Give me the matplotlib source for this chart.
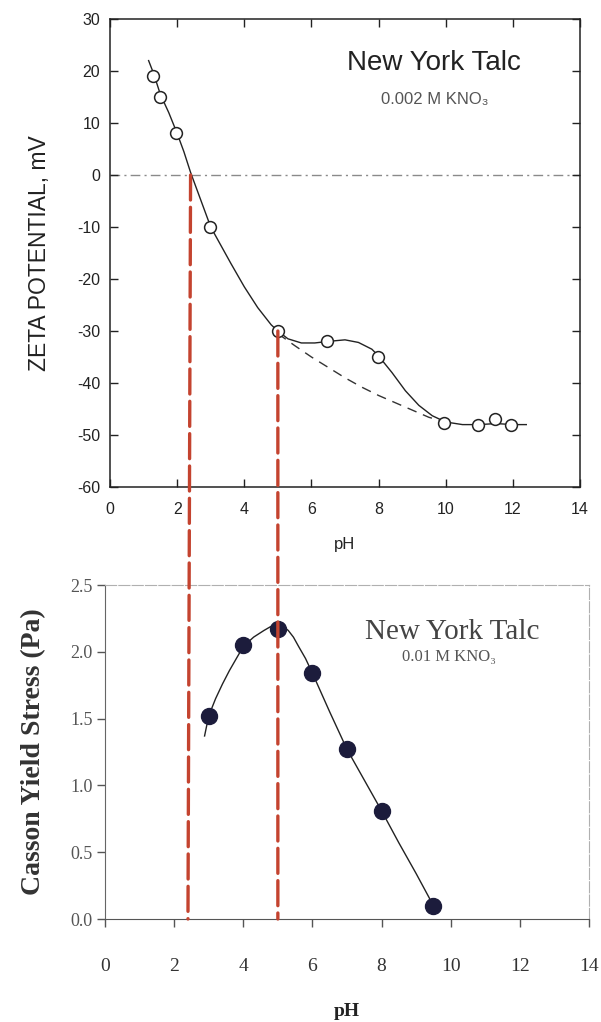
import matplotlib
matplotlib.use('Agg')
import matplotlib.pyplot as plt
from matplotlib.patches import ConnectionPatch

plt.rcParams['axes.unicode_minus'] = False

# ---------------- data: top panel (zeta potential) ----------------
zeta_ph = [1.29, 1.48, 1.98, 2.97, 4.99, 6.45, 7.97, 9.95, 10.95, 11.46, 11.95]
zeta_mv = [19.0, 15.0, 8.0, -10.0, -30.0, -32.0, -35.0, -47.6, -48.0, -47.0, -48.0]

zeta_fit_ph = [1.15, 1.3, 1.5, 1.75, 2.0, 2.2, 2.4, 2.6, 2.8, 3.0, 3.3, 3.6, 4.0, 4.4,
               4.8, 5.0, 5.3, 5.7, 6.1, 6.5, 7.0, 7.4, 7.8, 8.0, 8.4, 8.8, 9.2, 9.6,
               10.0, 10.5, 11.0, 11.5, 12.0, 12.4]
zeta_fit_mv = [22.0, 19.5, 15.5, 12.0, 8.0, 4.5, 0.5, -3.0, -6.5, -10.0, -13.5, -17.0,
               -21.5, -25.5, -28.8, -30.0, -31.5, -32.3, -32.3, -32.0, -31.7, -32.2,
               -33.5, -34.8, -38.0, -41.5, -44.3, -46.3, -47.5, -48.0, -48.0, -47.8,
               -48.0, -48.0]

zeta_dash_ph = [5.0, 5.5, 6.0, 6.5, 7.0, 7.5, 8.0, 8.5, 9.0, 9.5, 10.0]
zeta_dash_mv = [-30.5, -32.8, -35.0, -37.0, -39.0, -40.8, -42.4, -43.8, -45.2, -46.6, -47.5]

zeta_ticks = [30, 20, 10, 0, -10, -20, -30, -40, -50, -60]
ph_ticks = [0, 2, 4, 6, 8, 10, 12, 14]

# ---------------- data: bottom panel (Casson yield stress) ----------------
yield_ph = [3.0, 4.0, 5.0, 6.0, 7.0, 8.0, 9.5]
yield_pa = [1.52, 2.05, 2.17, 1.84, 1.27, 0.81, 0.10]

yield_fit_ph = [2.88, 3.0, 3.2, 3.4, 3.6, 3.8, 4.0, 4.3, 4.6, 4.8, 5.0, 5.15, 5.3,
                5.45, 5.6, 5.8, 6.0, 6.5, 7.0, 7.5, 8.0, 8.5, 9.0, 9.5]
yield_fit_pa = [1.37, 1.52, 1.65, 1.76, 1.86, 1.95, 2.04, 2.11, 2.16, 2.19, 2.20, 2.19,
                2.16, 2.11, 2.04, 1.95, 1.84, 1.55, 1.27, 1.04, 0.81, 0.57, 0.34, 0.10]

yield_ticks = [0.0, 0.5, 1.0, 1.5, 2.0, 2.5]
yield_tick_labels = ['0.0', '0.5', '1.0', '1.5', '2.0', '2.5']

# IEP / peak markers (red dashed lines)
iep_ph = [2.4, 5.0]
iep_zeta = [0.0, -30.0]

SANS = ['Liberation Sans', 'DejaVu Sans']
SERIF = ['Liberation Serif', 'DejaVu Serif']

fig = plt.figure(figsize=(6.01, 10.22), dpi=100)
ax1 = fig.add_axes([110 / 601, 1 - 487 / 1022, 470 / 601, 468 / 1022])
ax2 = fig.add_axes([105 / 601, 1 - 919 / 1022, 484 / 601, 334 / 1022])

# ---------------- top panel ----------------
ax1.axhline(0, color='#8a8a8a', lw=1.0, ls=(0, (7, 3, 1.5, 3)), zorder=1)
ax1.plot(zeta_fit_ph, zeta_fit_mv, color='#222222', lw=1.0, zorder=2)
ax1.plot(zeta_dash_ph, zeta_dash_mv, color='#333333', lw=1.0, ls=(0, (7, 5)), zorder=2)
ax1.plot(zeta_ph, zeta_mv, ls='none', marker='o', ms=8.5, mfc='white',
         mec='#222222', mew=1.1, zorder=3)
ax1.set_xlim(0, 14)
ax1.set_ylim(-60, 30)
ax1.set_xticks(ph_ticks)
ax1.set_yticks(zeta_ticks)
ax1.tick_params(direction='in', top=True, right=True, length=6, width=1.0,
                labelsize=11.5, colors='#222222')
ax1.tick_params(axis='y', pad=7)
ax1.tick_params(axis='x', pad=11)
for lab in ax1.get_xticklabels() + ax1.get_yticklabels():
    lab.set_family(SANS)
for sp in ax1.spines.values():
    sp.set_color('#222222')
    sp.set_linewidth(1.1)
ax1.set_xlabel('pH', family=SANS, fontsize=12, color='#222222', labelpad=14)
ax1.set_ylabel('ZETA POTENTIAL, mV', family=SANS, fontsize=16.5, color='#222222',
               labelpad=19)
ax1.text(0.69, 0.906, 'New York Talc', transform=ax1.transAxes, ha='center',
         va='center', family=SANS, fontsize=20, color='#222222')
ax1.text(0.69, 0.827, '0.002 M KNO\u2083', transform=ax1.transAxes, ha='center',
         va='center', family=SANS, fontsize=12, color='#555555')

# ---------------- bottom panel ----------------
ax2.plot(yield_fit_ph, yield_fit_pa, color='#222222', lw=1.0, zorder=2)
ax2.plot(yield_ph, yield_pa, ls='none', marker='o', ms=11.5, mfc='#1c1c3c',
         mec='#1c1c3c', zorder=3)
ax2.set_xlim(0, 14)
ax2.set_ylim(0, 2.5)
ax2.set_xticks(ph_ticks)
ax2.set_yticks(yield_ticks)
ax2.set_yticklabels(yield_tick_labels)
ax2.tick_params(direction='out', length=6, width=1.0, colors='#555555')
ax2.tick_params(axis='x', pad=22, labelsize=14, labelcolor='#333333')
ax2.tick_params(axis='y', pad=3, labelsize=13, labelcolor='#555555')
for lab in ax2.get_xticklabels() + ax2.get_yticklabels():
    lab.set_family(SERIF)
ax2.spines['left'].set_color('#666666')
ax2.spines['bottom'].set_color('#555555')
for s in ('top', 'right'):
    ax2.spines[s].set_color('#b0b0b0')
    ax2.spines[s].set_linestyle((0, (10, 2)))
ax2.set_xlabel('pH', family=SERIF, fontsize=14, fontweight='bold',
               color='#222222', labelpad=20)
ax2.set_ylabel('Casson Yield Stress (Pa)', family=SERIF, fontsize=20,
               fontweight='bold', color='#333333', labelpad=17)
ax2.text(0.717, 0.859, 'New York Talc', transform=ax2.transAxes, ha='center',
         va='center', family=SERIF, fontsize=21, color='#444444')
ax2.text(0.71, 0.784, '0.01 M KNO\u2083', transform=ax2.transAxes, ha='center',
         va='center', family=SERIF, fontsize=12, color='#555555')

# ---------------- red dashed connectors ----------------
for xp, yz in zip(iep_ph, iep_zeta):
    con = ConnectionPatch(xyA=(xp, yz), coordsA=ax1.transData,
                          xyB=(xp, 0.0), coordsB=ax2.transData,
                          color='#c4432f', lw=2.4, ls=(0, (7.5, 2.2)), zorder=5)
    fig.add_artist(con)

fig.savefig('out.png', dpi=100)
